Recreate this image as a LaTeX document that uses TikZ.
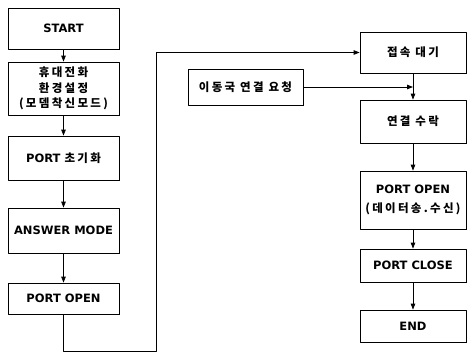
\documentclass[tikz,border=0pt]{standalone}
\usepackage{fontspec}
\setmainfont{DejaVu Sans}
\newfontfamily\kr[LetterSpace=20]{Noto Sans CJK KR Bold}
\usetikzlibrary{arrows.meta,shadows}
\begin{document}
\begin{tikzpicture}[x=1pt,y=1pt,>={Triangle[length=6pt,width=4.5pt]}, line join=round,
  box/.style={draw, fill=white, line width=0.7pt, align=center, inner sep=0pt,
    font=\fontsize{11.5}{15.5}\selectfont\bfseries,
    drop shadow={shadow xshift=0.9pt, shadow yshift=-0.9pt, fill=black, opacity=1}},
  flow/.style={->, line width=0.8pt}]
  \useasboundingbox (0,0) rectangle (467,353);
  % left column
  \node[box, minimum width=111, minimum height=41] (start) at (63.5,324.5) {START};
  \node[box, minimum width=111, minimum height=53] (phone) at (63.5,264.5)
    {{\kr 휴대전화}\\{\kr 환경설정}\\{\kr (모뎀착신모드)}};
  \node[box, minimum width=111, minimum height=44] (init) at (63.5,195) {PORT {\kr 초기화}};
  \node[box, minimum width=111, minimum height=45] (answer) at (63.5,122.5) {ANSWER MODE};
  \node[box, minimum width=111, minimum height=31] (open) at (63.5,54.5) {PORT OPEN};
  % right column
  \node[box, minimum width=106, minimum height=41] (wait) at (413,300.5) {{\kr 접속 대기}};
  \node[box, minimum width=115, minimum height=36] (request) at (245.5,266) {{\kr 이동국 연결 요청}};
  \node[box, minimum width=106, minimum height=43] (accept) at (413,231.5) {{\kr 연결 수락}};
  \node[box, minimum width=106, minimum height=58] (data) at (413,153)
    {PORT OPEN\\[3pt]{\kr (데이터송.수신)}};
  \node[box, minimum width=106, minimum height=33] (close) at (413,87.5) {PORT CLOSE};
  \node[box, minimum width=106, minimum height=32] (end) at (413,27) {END};
  \coordinate (turn) at (156,1.5);
  % connectors
  \draw[flow] (start) -- (phone);
  \draw[flow] (phone) -- (init);
  \draw[flow] (init) -- (answer);
  \draw[flow] (answer) -- (open);
  \draw[flow] (open.south) |- (turn) |- (wait.west);
  \draw[flow] (wait) -- (accept);
  \draw[flow] (request.east) -- (request.east -| wait.south);
  \draw[flow] (accept) -- (data);
  \draw[flow] (data) -- (close);
  \draw[flow] (close) -- (end);
\end{tikzpicture}
\end{document}
